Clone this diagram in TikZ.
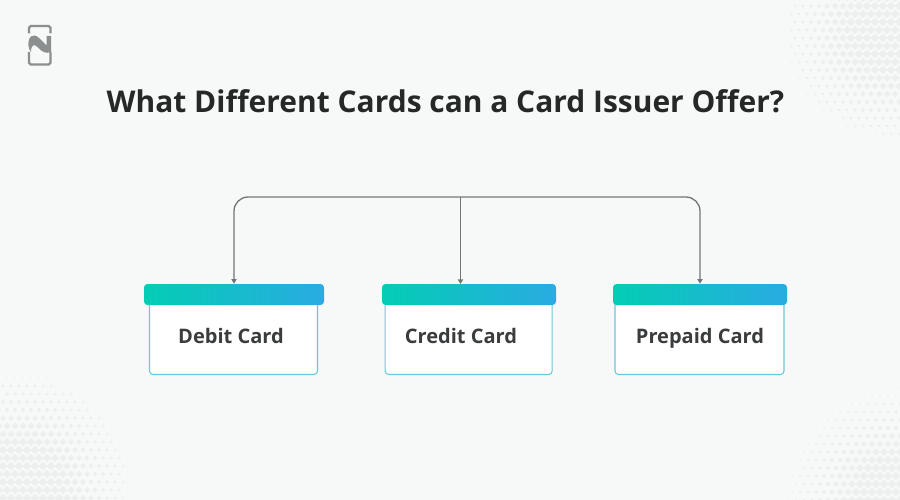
\documentclass[tikz,border=0pt]{standalone}
\usepackage{fontspec}
\setmainfont{Open Sans}
\usepackage{xcolor}
\usetikzlibrary{arrows.meta,positioning}

\definecolor{pagebg}{HTML}{F7F9F8}
\definecolor{dotgray}{HTML}{EDEFEF}
\definecolor{logogray}{HTML}{8C8F8F}
\definecolor{linegray}{HTML}{757575}
\definecolor{inkdark}{HTML}{262828}
\definecolor{labeldark}{HTML}{3A3C3E}
\definecolor{headleft}{HTML}{03CDB4}
\definecolor{headright}{HTML}{29ABE2}
\definecolor{bodyedge}{HTML}{6CC6DA}

\tikzset{
    cardhead/.style={rounded corners=2pt, left color=headleft, right color=headright},
    cardbody/.style={draw=bodyedge, line width=0.6pt, fill=white, rounded corners=2pt},
    cardlabel/.style={font=\fontsize{11.4}{14}\selectfont\bfseries, text=labeldark, inner sep=0pt, anchor=base},
    branch/.style={draw=linegray, line width=0.75pt, rounded corners=8pt,
            -{Triangle[length=2.6pt,width=3pt]}},
}

% One patch of halftone dots: centre x, centre y, radius
\newcommand{\halftone}[3]{
    \foreach \i in {-26,...,26} {
            \foreach \j in {-26,...,26} {
                    \pgfmathsetmacro{\dx}{8*\i+4*\j}
                    \pgfmathsetmacro{\dy}{8*\j}
                    \pgfmathsetmacro{\size}{min(4.2,6.5*(1-veclen(\dx,\dy)/#3))}
                    \ifdim \size pt>0.5pt
                        \fill[dotgray] (#1+\dx-\size,#2+\dy) -- (#1+\dx,#2+\dy-\size)
                        -- (#1+\dx+\size,#2+\dy) -- (#1+\dx,#2+\dy+\size) -- cycle;
                    \fi
                }
        }
}

\begin{document}
\begin{tikzpicture}[x=0.02cm,y=-0.02cm]
    % Page
    \fill[pagebg] (0,0) rectangle (900,500);
    \useasboundingbox (0,0) rectangle (900,500);

    % Halftone corners
    \begin{scope}
        \clip (0,0) rectangle (900,500);
        \halftone{895}{30}{125}
        \halftone{15}{490}{132}
        \halftone{900}{500}{122}
    \end{scope}

    % Logo
    \draw[logogray, line width=1.25pt, rounded corners=1pt] (29,33.5) |- (50.5,26) -- (50.5,33.5);
    \draw[logogray, line width=1.25pt, rounded corners=1pt] (29,52) |- (50.5,64.5) -- (50.5,52);
    \fill[logogray] (28.5,46) .. controls (27.5,37) and (33,32) .. (39,38)
    -- (46.5,45.5) -- (46.5,36) -- (51,36) -- (51,52)
    .. controls (46,54) and (42,52) .. (38,47.5)
    .. controls (34,43) and (31,45) .. (31,52) .. controls (29.5,50) and (28.8,48) .. (28.5,46) -- cycle;

    % Title
    \node[font=\fontsize{17.05}{22}\selectfont\bfseries, text=inkdark, inner sep=0pt] (title) at (445.5,101)
    {What Different Cards can a Card Issuer Offer?};

    % Card bodies
    \node[cardbody, minimum width=168*0.02cm, minimum height=78*0.02cm, inner sep=0pt] (debit) at (233.5,335.5) {};
    \node[cardbody, minimum width=167*0.02cm, minimum height=78*0.02cm, inner sep=0pt] (credit) at (468.7,335.5) {};
    \node[cardbody, minimum width=169*0.02cm, minimum height=78*0.02cm, inner sep=0pt] (prepaid) at (699.5,335.5) {};

    % Card headers
    \node[cardhead, minimum width=180*0.02cm, minimum height=21*0.02cm, inner sep=0pt] (debithead) at (234,294.5) {};
    \node[cardhead, minimum width=174*0.02cm, minimum height=21*0.02cm, inner sep=0pt] (credithead) at (469,294.5) {};
    \node[cardhead, minimum width=174*0.02cm, minimum height=21*0.02cm, inner sep=0pt] (prepaidhead) at (700,294.5) {};

    % Card labels
    \node[cardlabel] (debitlabel) at (231,343) {Debit Card};
    \node[cardlabel] (creditlabel) at (461,343) {Credit Card};
    \node[cardlabel] (prepaidlabel) at (700,343) {Prepaid Card};

    % Connectors
    \coordinate (hub) at (460.5,197);
    \coordinate (creditend) at (460.5,284);
    \draw[branch] (hub) -| (debithead.north);
    \draw[branch] (hub) -- (creditend);
    \draw[branch] (hub) -| (prepaidhead.north);
\end{tikzpicture}
\end{document}
